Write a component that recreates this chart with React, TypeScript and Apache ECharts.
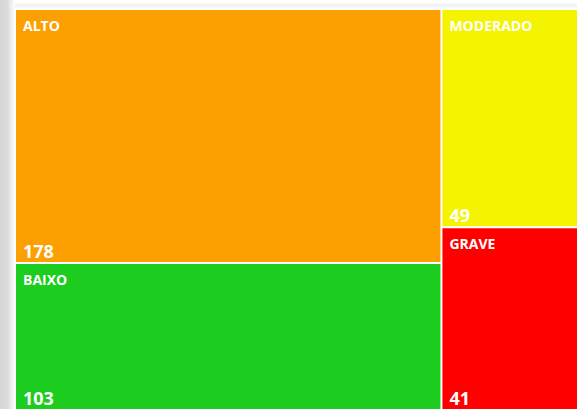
import React, { useEffect, useRef } from "react";
import * as echarts from "echarts";

const categories: string[] = ["ALTO", "BAIXO", "MODERADO", "GRAVE"];
const values: number[] = [178, 103, 49, 41];
const colors: string[] = ["#FC9F00", "#1CCC1F", "#F4F300", "#FF0000"];

const FONT = "'Open Sans', 'Noto Sans', sans-serif";

export default function App() {
  const ref = useRef<HTMLDivElement>(null);

  useEffect(() => {
    if (!ref.current) return;
    const chart = echarts.init(ref.current, null, { renderer: "svg" });

    const data = categories.map((name, i) => ({
      name,
      value: values[i],
      itemStyle: { color: colors[i] },
    }));
    const overlayData = categories.map((name, i) => ({
      name,
      value: values[i],
      itemStyle: { color: "rgba(0,0,0,0)" },
    }));

    const common = {
      type: "treemap",
      left: 16,
      top: 10,
      width: 561,
      height: 399,
      roam: false,
      nodeClick: false,
      silent: true,
      breadcrumb: { show: false },
      sort: "desc",
      squareRatio: 0.5 * (1 + Math.sqrt(5)),
      upperLabel: { show: false },
    };

    chart.setOption({
      animation: false,
      backgroundColor: "#ffffff",
      graphic: [
        {
          type: "rect",
          shape: { x: 0, y: 0, width: 15, height: 409 },
          style: {
            fill: new echarts.graphic.LinearGradient(0, 0, 1, 0, [
              { offset: 0, color: "#d6d6d6" },
              { offset: 0.5, color: "#dcdcdc" },
              { offset: 1, color: "#ffffff" },
            ]),
          },
          z: -10,
        },
        {
          type: "rect",
          shape: { x: 15, y: 2, width: 562, height: 7 },
          style: {
            fill: new echarts.graphic.LinearGradient(0, 0, 0, 1, [
              { offset: 0, color: "#ffffff" },
              { offset: 0.5, color: "#f1f1f1" },
              { offset: 1, color: "#ffffff" },
            ]),
          },
          z: -10,
        },
      ],
      series: [
        {
          ...common,
          itemStyle: { borderWidth: 0, gapWidth: 2, borderColor: "#ffffff" },
          label: {
            show: true,
            position: "insideTopLeft",
            formatter: "{b}",
            color: "#ffffff",
            fontFamily: FONT,
            fontWeight: "bold",
            fontSize: 14,
            padding: [8, 0, 0, 7],
            distance: 0,
          },
          data,
        },
        {
          ...common,
          itemStyle: {
            borderWidth: 0,
            gapWidth: 2,
            borderColor: "rgba(0,0,0,0)",
            color: "rgba(0,0,0,0)",
          },
          label: {
            show: true,
            position: "insideBottomLeft",
            formatter: "{c}",
            color: "#ffffff",
            fontFamily: FONT,
            fontWeight: "bold",
            fontSize: 18,
            padding: [0, 0, 2, 7],
            distance: 0,
          },
          data: overlayData,
        },
      ],
    });

    return () => chart.dispose();
  }, []);

  return (
    <div
      ref={ref}
      style={{
        position: "fixed",
        left: 0,
        top: 0,
        width: 577,
        height: 409,
      }}
    />
  );
}
